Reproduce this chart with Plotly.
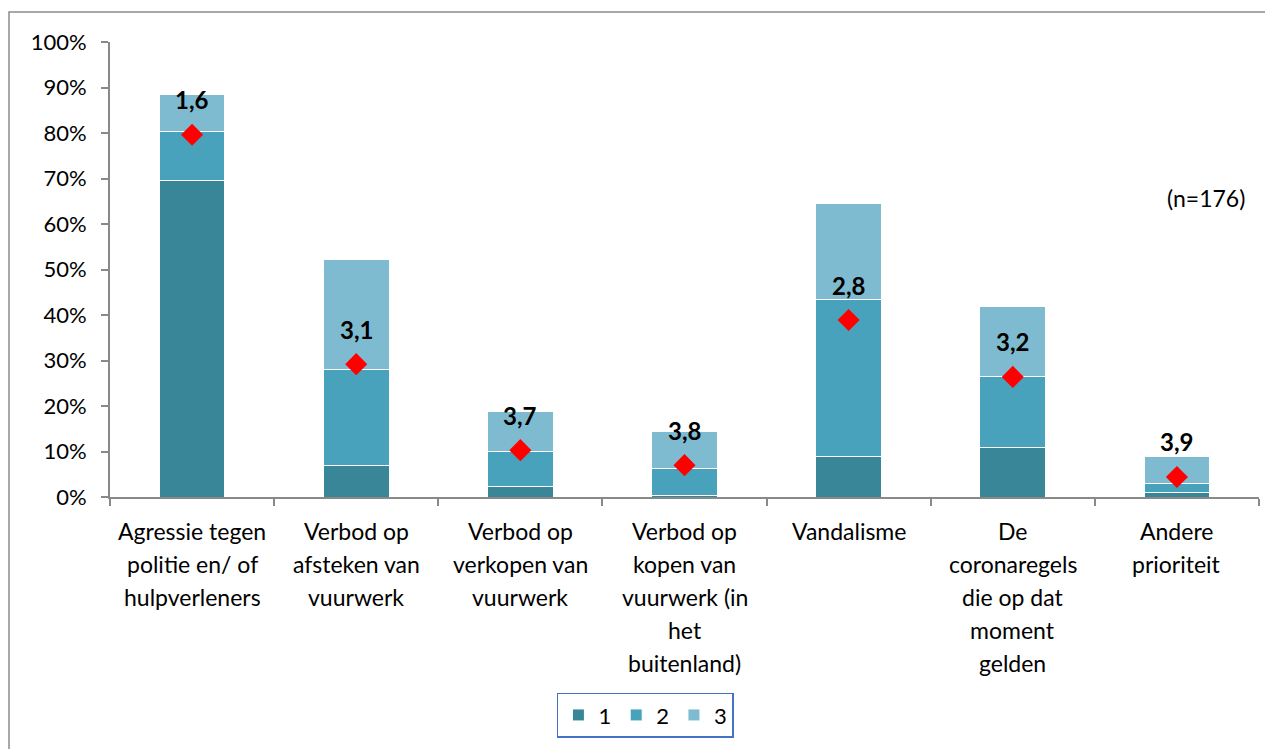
import plotly.graph_objects as go

categories = ["Agressie", "Afsteken", "Verkopen", "Kopen", "Vandalisme", "Corona", "Andere"]
label_lines = [
    ["Agressie tegen", "politie en/ of", "hulpverleners"],
    ["Verbod op", "afsteken van", "vuurwerk"],
    ["Verbod op", "verkopen van", "vuurwerk"],
    ["Verbod op", "kopen van", "vuurwerk (in", "het", "buitenland)"],
    ["Vandalisme"],
    ["De", "coronaregels", "die op dat", "moment", "gelden"],
    ["Andere", "prioriteit"],
]
seg1 = [69.6, 7.0, 2.4, 0.4, 9.0, 10.8, 1.1]
seg2 = [10.8, 21.1, 7.5, 5.8, 34.5, 15.6, 1.8]
seg3 = [8.0, 24.2, 9.0, 8.3, 20.9, 15.4, 5.9]
avg_pos = [79.6, 29.2, 10.3, 7.0, 38.9, 26.4, 4.4]
avg_labels = ["1,6", "3,1", "3,7", "3,8", "2,8", "3,2", "3,9"]
y_ticks = [0, 10, 20, 30, 40, 50, 60, 70, 80, 90, 100]

FONT = "Lato"
colors = ["#3A8699", "#48A2BB", "#7FBBD0"]

fig = go.Figure()
for name, vals, c in zip(["1", "2", "3"], [seg1, seg2, seg3], colors):
    fig.add_trace(go.Bar(x=categories, y=vals, name=name, marker=dict(color=c, line=dict(color="white", width=1)),
                         width=0.4))

fig.add_trace(go.Scatter(x=categories, y=avg_pos, mode="markers", showlegend=False,
                         marker=dict(symbol="diamond", color="#FF0000", size=17, line=dict(width=0))))

for cat, yv, lab in zip(categories, avg_pos, avg_labels):
    fig.add_annotation(x=cat, y=yv, text="<b>" + lab + "</b>", showarrow=False, yshift=35,
                       font=dict(family=FONT, size=24, color="black"))

for cat, lines in zip(categories, label_lines):
    for i, ln in enumerate(lines):
        fig.add_annotation(x=cat, y=0, text=ln, showarrow=False, yanchor="middle",
                           yshift=-(34 + 33 * i), font=dict(family=FONT, size=23, color="black"))

fig.add_annotation(x=1.0, xref="paper", y=65.7, text="(n=176)", showarrow=False, xanchor="right", xshift=-12,
                   font=dict(family=FONT, size=23, color="black"))

# outer chart border
fig.add_shape(type="rect", xref="paper", yref="paper", x0=-0.0879, x1=1.2, y0=-1.0, y1=1.066,
              line=dict(color="#8C8C8C", width=1.5), fillcolor="rgba(0,0,0,0)")

fig.update_layout(
    barmode="stack",
    width=1273, height=749,
    margin=dict(l=102, r=22, t=34, b=260),
    plot_bgcolor="white", paper_bgcolor="white",
    font=dict(family=FONT, size=22, color="black"),
    legend=dict(orientation="h", x=0.466, xanchor="center", y=-0.43, yanchor="top",
                bordercolor="#4472C4", borderwidth=1.5, font=dict(family=FONT, size=22),
                itemwidth=30, tracegroupgap=0, traceorder="normal"),
    xaxis=dict(showticklabels=False, showline=True, linecolor="#898989", linewidth=2,
               ticks="outside", tickson="boundaries", ticklen=7, tickcolor="#898989", tickwidth=1.5,
               range=[-0.5, 6.5]),
    yaxis=dict(range=[0, 100], tickvals=y_ticks, ticktext=[f"{v}%" for v in y_ticks],
               showline=True, linecolor="#898989", linewidth=2, ticks="outside", ticklen=7,
               tickcolor="#898989", tickwidth=1.5, showgrid=False, zeroline=False,
               ticklabelstandoff=10, tickfont=dict(family=FONT, size=22)),
)

fig.write_html("out.html")
